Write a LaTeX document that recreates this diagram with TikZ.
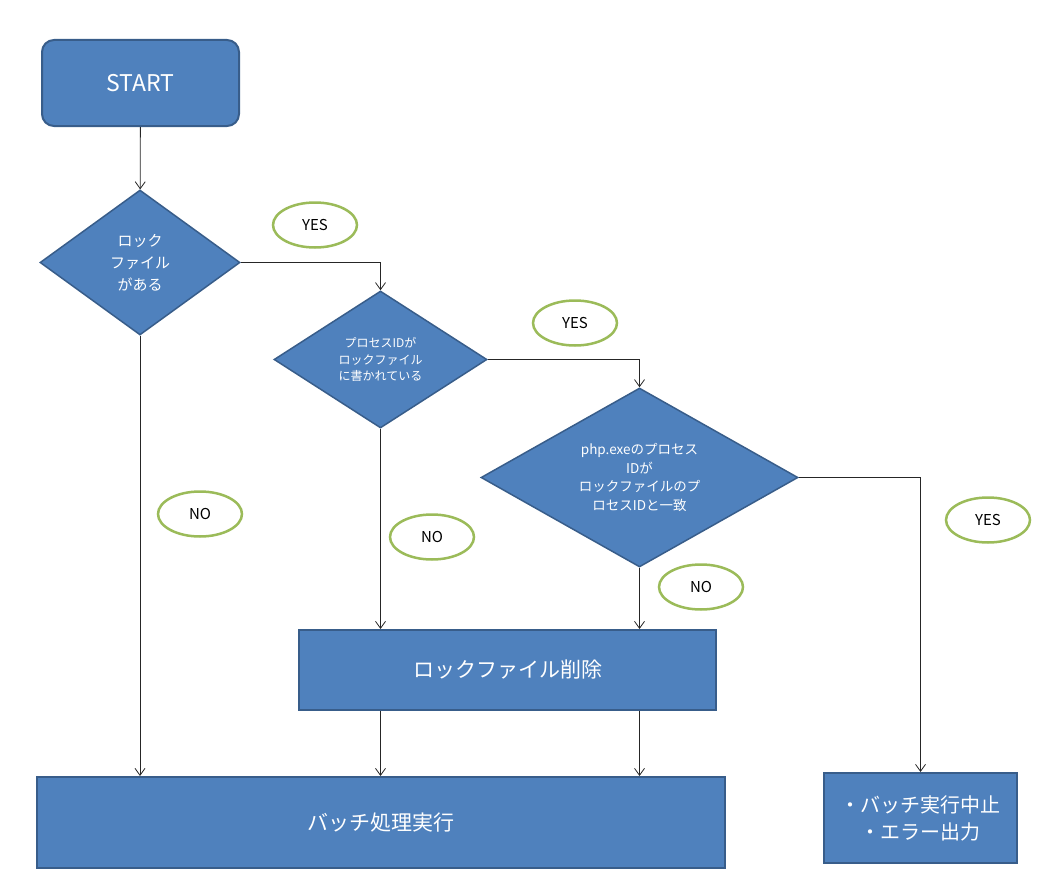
\documentclass[tikz,border=0pt]{standalone}
\usepackage{fontspec}
\setmainfont{Noto Sans CJK JP}
\usepackage{tikz}
\usetikzlibrary{arrows.meta}
\usetikzlibrary{positioning}
\usetikzlibrary{shapes.geometric}

\definecolor{boxblue}{HTML}{4F81BD}
\definecolor{boxedge}{HTML}{385D8A}
\definecolor{lblgreen}{HTML}{9BBB59}

\tikzset{
  procbox/.style={draw=boxedge, line width=2pt, fill=boxblue, text=white, align=center, inner sep=0pt},
  decision/.style={diamond, draw=boxedge, line width=1.5pt, fill=boxblue, text=white, align=center, inner sep=0pt},
  lbl/.style={ellipse, draw=lblgreen, line width=2.5pt, fill=white, minimum width=84pt, minimum height=45pt, font=\fontsize{15}{18}\selectfont},
  flow/.style={draw=black!85, line width=0.8pt, -{Straight Barb[length=7pt,width=10pt]}}
}

\begin{document}
\begin{tikzpicture}[x=1pt,y=-1pt]
  \useasboundingbox (0,0) rectangle (1061,883);

  % boxes
  \node[procbox, rounded corners=12pt, minimum width=197pt, minimum height=86pt, font=\fontsize{23}{26}\selectfont] (start) at (140.5,83) {START};
  \node[procbox, minimum width=417pt, minimum height=80pt, font=\fontsize{21}{24}\selectfont] (del) at (507.5,670) {ロックファイル削除};
  \node[procbox, minimum width=688pt, minimum height=91pt, font=\fontsize{21}{24}\selectfont] (run) at (381,822.5) {バッチ処理実行};
  \node[procbox, minimum width=193pt, minimum height=90pt, font=\fontsize{20}{27}\selectfont] (stop) at (920.5,818) {・バッチ実行中止\\・エラー出力};

  % decisions
  \node[decision, aspect=1.38, minimum width=200pt, minimum height=145pt, font=\fontsize{15}{22}\selectfont] (q1) at (140,262.5) {ロック\\ファイル\\がある};
  \node[decision, aspect=1.55, minimum width=213pt, minimum height=137pt, font=\fontsize{12}{16.5}\selectfont] (q2) at (380.5,359.5) {プロセスIDが\\ロックファイル\\に書かれている};
  \node[decision, aspect=1.77, minimum width=317pt, minimum height=179pt, font=\fontsize{13.5}{18.5}\selectfont] (q3) at (639.5,477.5) {php.exeのプロセス\\IDが\\ロックファイルのプ\\ロセスIDと一致};

  % labels
  \node[lbl] (yes1) at (315,225) {YES};
  \node[lbl] (yes2) at (575,323) {YES};
  \node[lbl] (yes3) at (988,520) {YES};
  \node[lbl] (no1) at (200,514) {NO};
  \node[lbl] (no2) at (432,537) {NO};
  \node[lbl] (no3) at (701,587) {NO};

  % arrows
  \draw[flow] (start) -- (q1);
  \draw[flow] (q1.east) -| (q2.north);
  \draw[flow] (q1.south) -- (q1.south |- run.north);
  \draw[flow] (q2.east) -| (q3.north);
  \draw[flow] (q2.south) -- (q2.south |- del.north);
  \draw[flow] (q3.south) -- (q3.south |- del.north);
  \draw[flow] (q3.east) -| (stop.north);
  \draw[flow] (del.south -| q2.south) -- (run.north -| q2.south);
  \draw[flow] (del.south -| q3.south) -- (run.north -| q3.south);

\end{tikzpicture}
\end{document}
